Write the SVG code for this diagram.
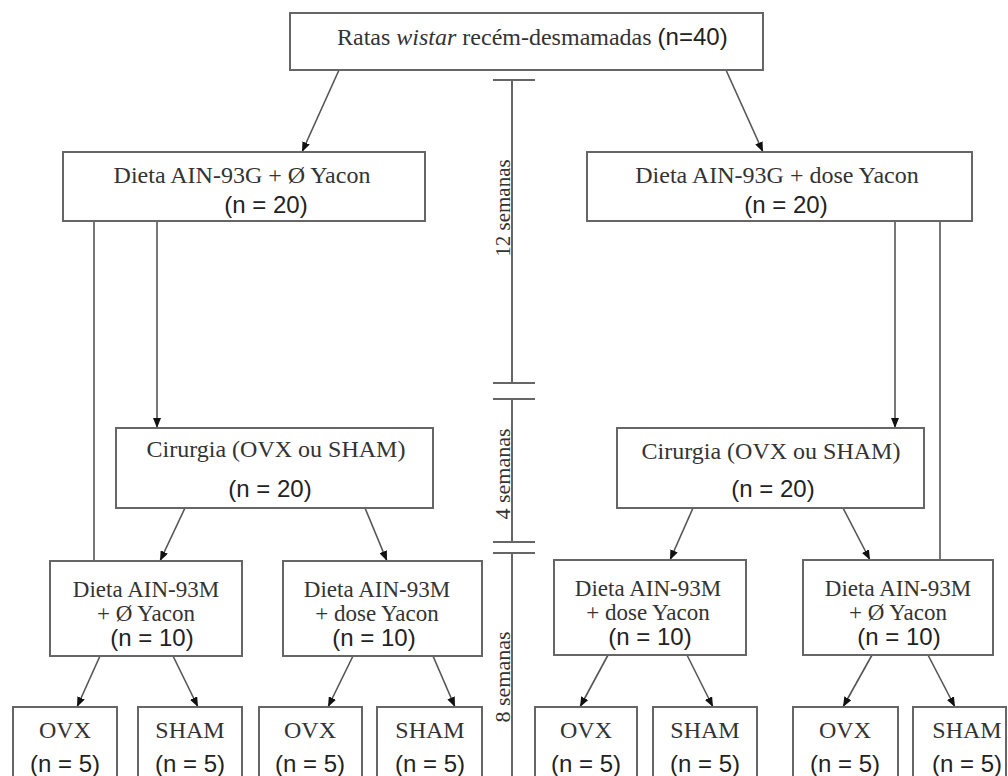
<svg xmlns="http://www.w3.org/2000/svg" width="1008" height="776" viewBox="0 0 1008 776">
  <defs>
    <marker id="arrow" viewBox="0 0 10 8" refX="10" refY="4" markerWidth="10" markerHeight="8" markerUnits="userSpaceOnUse" orient="auto">
      <path d="M0,0 L10,4 L0,8 z" fill="#111"/>
    </marker>
    <style>
      .box { fill: #ffffff; stroke: #666; stroke-width: 2; }
      .serif { font-family: "Liberation Serif", "Times New Roman", serif; font-size: 24px; fill: #333; }
      .serif-m { font-family: "Liberation Serif", "Times New Roman", serif; font-size: 23px; fill: #333; }
      .sans { font-family: "Liberation Sans", Arial, sans-serif; font-size: 24px; fill: #222; }
      .c { text-anchor: middle; }
      .link { stroke: #555; stroke-width: 1.6; fill: none; }
      .arr { marker-end: url(#arrow); }
      .time { stroke: #666; stroke-width: 2; fill: none; }
      .tlabel { font-family: "Liberation Serif", "Times New Roman", serif; fill: #333; text-anchor: middle; }
    </style>
  </defs>
  <rect width="1008" height="776" fill="#ffffff"/>

  <!-- timeline -->
  <g id="timeline">
    <path class="time" d="M493,80 H535 M512,80 V383 M493,383 H535 M493,399 H535 M512,399 V542 M493,542 H535 M493,553 H535 M512,553 V776"/>
    <text class="tlabel" font-size="21" transform="translate(510,208) rotate(-90)">12 semanas</text>
    <text class="tlabel" font-size="22" transform="translate(510,474) rotate(-90)">4 semanas</text>
    <text class="tlabel" font-size="22" transform="translate(510,677) rotate(-90)">8 semanas</text>
  </g>

  <!-- connectors -->
  <g id="connectors">
    <line class="link arr" x1="339" y1="70" x2="302" y2="152"/>
    <line class="link arr" x1="726" y1="70" x2="763" y2="152"/>
    <line class="link arr" x1="157" y1="221" x2="157" y2="428"/>
    <line class="link" x1="94" y1="221" x2="94" y2="561"/>
    <line class="link arr" x1="895" y1="221" x2="895" y2="428"/>
    <line class="link" x1="940" y1="221" x2="940" y2="560"/>
    <line class="link arr" x1="185" y1="508" x2="160" y2="561"/>
    <line class="link arr" x1="365" y1="508" x2="387" y2="561"/>
    <line class="link arr" x1="693" y1="508" x2="670" y2="560"/>
    <line class="link arr" x1="843" y1="508" x2="870" y2="560"/>
    <line class="link arr" x1="100" y1="656" x2="77" y2="707"/>
    <line class="link arr" x1="173" y1="656" x2="198" y2="707"/>
    <line class="link arr" x1="353" y1="656" x2="328" y2="707"/>
    <line class="link arr" x1="433" y1="656" x2="455" y2="707"/>
    <line class="link arr" x1="608" y1="655" x2="580" y2="707"/>
    <line class="link arr" x1="687" y1="655" x2="713" y2="707"/>
    <line class="link arr" x1="872" y1="655" x2="843" y2="707"/>
    <line class="link arr" x1="928" y1="655" x2="955" y2="707"/>
  </g>

  <!-- nodes -->
  <g id="n-root">
    <rect class="box" x="290" y="13" width="473" height="57"/>
    <text x="337" y="45"><tspan class="serif">Ratas </tspan><tspan class="serif" font-style="italic">wistar</tspan><tspan class="serif"> recém-desmamadas </tspan><tspan class="sans">(n=40)</tspan></text>
  </g>

  <g id="n-g-zero">
    <rect class="box" x="63" y="152" width="362" height="69"/>
    <text class="serif c" x="242" y="183">Dieta AIN-93G + Ø Yacon</text>
    <text class="sans c" x="266" y="213">(n = 20)</text>
  </g>

  <g id="n-g-dose">
    <rect class="box" x="587" y="152" width="385" height="69"/>
    <text class="serif c" x="777" y="183">Dieta AIN-93G + dose Yacon</text>
    <text class="sans c" x="786" y="213">(n = 20)</text>
  </g>

  <g id="n-cir-left">
    <rect class="box" x="116" y="428" width="317" height="80"/>
    <text class="serif c" x="276" y="457">Cirurgia (OVX ou SHAM)</text>
    <text class="sans c" x="270" y="497">(n = 20)</text>
  </g>

  <g id="n-cir-right">
    <rect class="box" x="617" y="428" width="307" height="80"/>
    <text class="serif c" x="771" y="459">Cirurgia (OVX ou SHAM)</text>
    <text class="sans c" x="773" y="497">(n = 20)</text>
  </g>

  <g id="n-m-a">
    <rect class="box" x="50" y="561" width="192" height="95"/>
    <text class="serif-m c" x="146" y="597">Dieta AIN-93M</text>
    <text class="serif-m c" x="146" y="621">+ Ø Yacon</text>
    <text class="sans c" x="152" y="646">(n = 10)</text>
  </g>

  <g id="n-m-b">
    <rect class="box" x="283" y="561" width="199" height="95"/>
    <text class="serif-m c" x="377" y="597">Dieta AIN-93M</text>
    <text class="serif-m c" x="377" y="621">+ dose Yacon</text>
    <text class="sans c" x="374" y="646">(n = 10)</text>
  </g>

  <g id="n-m-c">
    <rect class="box" x="554" y="560" width="192" height="95"/>
    <text class="serif-m c" x="648" y="596">Dieta AIN-93M</text>
    <text class="serif-m c" x="648" y="620">+ dose Yacon</text>
    <text class="sans c" x="650" y="645">(n = 10)</text>
  </g>

  <g id="n-m-d">
    <rect class="box" x="803" y="560" width="190" height="95"/>
    <text class="serif-m c" x="898" y="596">Dieta AIN-93M</text>
    <text class="serif-m c" x="898" y="620">+ Ø Yacon</text>
    <text class="sans c" x="899" y="645">(n = 10)</text>
  </g>

  <g id="n-ovx-1">
    <rect class="box" x="13" y="707" width="104" height="90"/>
    <text class="serif c" x="65" y="738">OVX</text>
    <text class="sans c" x="65" y="772">(n = 5)</text>
  </g>
  <g id="n-sham-1">
    <rect class="box" x="138" y="707" width="104" height="90"/>
    <text class="serif c" x="190" y="738">SHAM</text>
    <text class="sans c" x="190" y="772">(n = 5)</text>
  </g>
  <g id="n-ovx-2">
    <rect class="box" x="259" y="707" width="103" height="90"/>
    <text class="serif c" x="310" y="738">OVX</text>
    <text class="sans c" x="310" y="772">(n = 5)</text>
  </g>
  <g id="n-sham-2">
    <rect class="box" x="377" y="707" width="105" height="90"/>
    <text class="serif c" x="430" y="738">SHAM</text>
    <text class="sans c" x="430" y="772">(n = 5)</text>
  </g>
  <g id="n-ovx-3">
    <rect class="box" x="535" y="707" width="102" height="90"/>
    <text class="serif c" x="586" y="738">OVX</text>
    <text class="sans c" x="586" y="772">(n = 5)</text>
  </g>
  <g id="n-sham-3">
    <rect class="box" x="653" y="707" width="104" height="90"/>
    <text class="serif c" x="705" y="738">SHAM</text>
    <text class="sans c" x="705" y="772">(n = 5)</text>
  </g>
  <g id="n-ovx-4">
    <rect class="box" x="793" y="707" width="105" height="90"/>
    <text class="serif c" x="845" y="738">OVX</text>
    <text class="sans c" x="845" y="772">(n = 5)</text>
  </g>
  <g id="n-sham-4">
    <rect class="box" x="913" y="707" width="93" height="90"/>
    <text class="serif c" x="967" y="738">SHAM</text>
    <text class="sans c" x="967" y="772">(n = 5)</text>
  </g>
</svg>
